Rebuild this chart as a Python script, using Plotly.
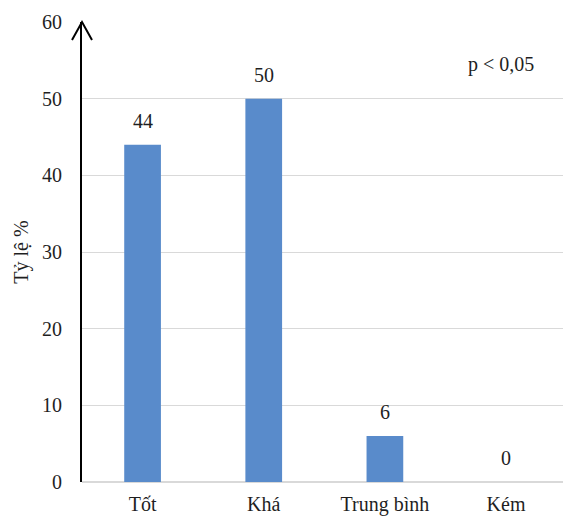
import plotly.graph_objects as go

# Xếp loại và tỷ lệ (%)
categories = ["Tốt", "Khá", "Trung bình", "Kém"]
values = [44, 50, 6, 0]
y_ticks = [0, 10, 20, 30, 40, 50, 60]

FONT = "Liberation Serif, Times New Roman, serif"
TEXT_COLOR = "#1f1f1f"
BAR_COLOR = "#598BCB"
FS = 20

fig = go.Figure()
fig.add_trace(go.Bar(
    x=categories,
    y=values,
    marker=dict(color=BAR_COLOR, line=dict(width=0)),
    hoverinfo="skip",
))

# value labels above each bar
for c, v in zip(categories, values):
    fig.add_annotation(
        x=c, y=v, text=str(v), showarrow=False,
        yanchor="bottom", yshift=11,
        font=dict(family=FONT, size=FS, color=TEXT_COLOR),
    )

fig.add_annotation(
    xref="paper", yref="y", x=0.871, y=54.4, text="p < 0,05",
    showarrow=False, xanchor="center", yanchor="middle",
    font=dict(family=FONT, size=FS, color=TEXT_COLOR),
)

# arrowhead on top of the vertical axis
fig.add_shape(
    type="path", xref="paper", yref="paper",
    xsizemode="pixel", ysizemode="pixel", xanchor=0, yanchor=1,
    path="M -10,-18 L 0,0 L 10,-18",
    line=dict(color="black", width=2),
)

fig.update_layout(
    width=563, height=516,
    margin=dict(l=82, r=0, t=22, b=34),
    paper_bgcolor="white", plot_bgcolor="white",
    bargap=0.697,
    showlegend=False,
    font=dict(family=FONT, size=FS, color=TEXT_COLOR),
)
fig.update_xaxes(
    range=[-0.5, 3.47], automargin=False,
    showgrid=False, showline=False, zeroline=False, ticks="",
    tickfont=dict(family=FONT, size=FS, color=TEXT_COLOR),
    ticklabelstandoff=8,
)
fig.update_yaxes(
    range=[0, 60], tickvals=y_ticks, automargin=False,
    showgrid=True, gridcolor="#d9d9d9", gridwidth=1,
    zeroline=True, zerolinecolor="#d9d9d9", zerolinewidth=2,
    showline=True, linecolor="black", linewidth=2,
    ticks="", ticklabelstandoff=14,
    tickfont=dict(family=FONT, size=FS, color=TEXT_COLOR),
    title=dict(text="Tỷ lệ %", standoff=8,
               font=dict(family=FONT, size=FS, color=TEXT_COLOR)),
)

fig.write_html("out.html")
